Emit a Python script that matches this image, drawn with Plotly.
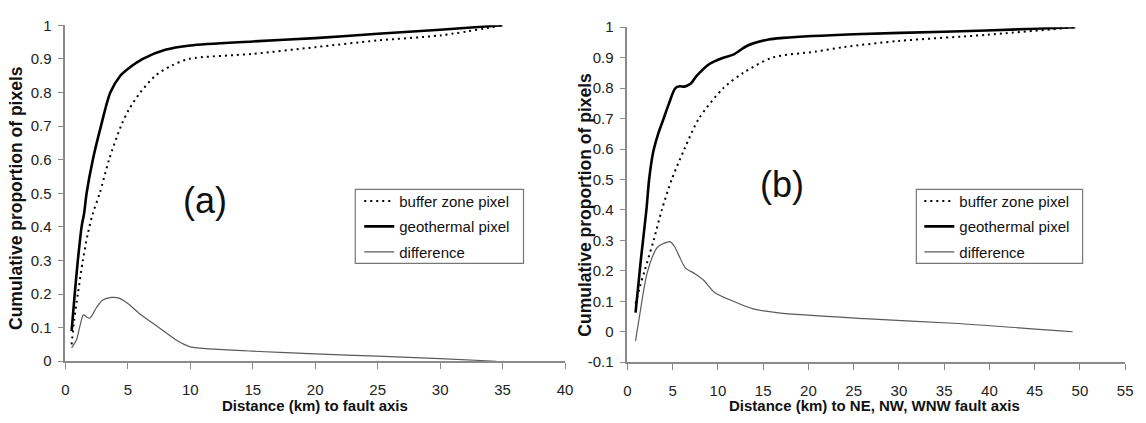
import plotly.graph_objects as go

# ---------------- Panel (a) data ----------------
a_geo_x = [0.5, 0.75, 1.0, 1.3, 1.5, 1.7, 2.2, 2.85, 3.6, 4.4, 5.0, 6.2, 8.0, 10.0, 15.0, 20.0, 25.0, 30.0, 35.0]
a_geo_y = [0.09, 0.2, 0.3, 0.4, 0.44, 0.5, 0.6, 0.7, 0.8, 0.85, 0.87, 0.9, 0.927, 0.94, 0.952, 0.962, 0.975, 0.987, 1.0]

a_buf_x = [0.5, 0.7, 1.0, 1.4, 1.8, 2.2, 2.75, 3.5, 4.45, 5.1, 6.0, 7.2, 8.5, 9.9, 15.0, 20.0, 25.0, 30.0, 35.0]
a_buf_y = [0.05, 0.12, 0.2, 0.3, 0.38, 0.44, 0.5, 0.6, 0.7, 0.75, 0.8, 0.85, 0.88, 0.9, 0.915, 0.935, 0.955, 0.97, 1.0]

a_dif_x = [0.5, 0.9, 1.2, 1.45, 1.7, 1.95, 2.5, 3.0, 3.7, 4.3, 5.0, 6.0, 7.5, 9.0, 10.0, 12.0, 15.0, 20.0, 25.0, 30.0, 34.5]
a_dif_y = [0.04, 0.065, 0.11, 0.138, 0.132, 0.128, 0.16, 0.182, 0.19, 0.188, 0.172, 0.14, 0.1, 0.06, 0.043, 0.036, 0.03, 0.022, 0.015, 0.008, 0.0]

# ---------------- Panel (b) data ----------------
b_geo_x = [0.9, 1.5, 2.1, 2.4, 2.85, 3.4, 4.0, 4.6, 5.3, 5.8, 6.3, 7.0, 7.65, 9.1, 10.6, 11.7, 13.3, 15.6, 17.2, 25.0, 35.0, 45.0, 49.5]
b_geo_y = [0.063, 0.24, 0.4, 0.5, 0.59, 0.65, 0.7, 0.75, 0.8, 0.806, 0.805, 0.815, 0.84, 0.88, 0.9, 0.91, 0.94, 0.96, 0.965, 0.977, 0.985, 0.995, 1.0]

b_buf_x = [0.9, 1.4, 1.9, 2.9, 3.8, 4.9, 6.3, 7.9, 10.6, 12.8, 16.0, 20.8, 24.0, 30.0, 39.7, 49.5]
b_buf_y = [0.093, 0.15, 0.2, 0.3, 0.4, 0.5, 0.6, 0.7, 0.8, 0.85, 0.9, 0.92, 0.935, 0.955, 0.975, 1.0]

b_dif_x = [0.9, 1.3, 2.2, 3.3, 4.0, 4.7, 5.2, 5.7, 6.4, 7.5, 8.4, 9.6, 11.7, 13.9, 16.7, 26.2, 36.0, 49.2]
b_dif_y = [-0.03, 0.044, 0.195, 0.277, 0.29, 0.296, 0.28, 0.25, 0.21, 0.19, 0.17, 0.13, 0.1, 0.075, 0.062, 0.043, 0.028, 0.0]

# ---------------- Labels ----------------
series_names = ["buffer zone pixel", "geothermal pixel", "difference"]
y_title = "Cumulative proportion of pixels"
a_x_title = "Distance (km) to fault axis"
b_x_title = "Distance (km) to NE, NW, WNW fault axis"
a_y_ticks = [0, 0.1, 0.2, 0.3, 0.4, 0.5, 0.6, 0.7, 0.8, 0.9, 1]
b_y_ticks = [-0.1, 0, 0.1, 0.2, 0.3, 0.4, 0.5, 0.6, 0.7, 0.8, 0.9, 1]
b_y_ticktext = ["-0.1", "0", "0.1", "0.2", "0.3", "0.4", "0.5", "0.6", "0.7", "0.8", "0.9", "1"]
a_x_ticks = [0, 5, 10, 15, 20, 25, 30, 35, 40]
b_x_ticks = [0, 5, 10, 15, 20, 25, 30, 35, 40, 45, 50, 55]

W, H = 1146, 423
FONT = "Liberation Sans, Arial, sans-serif"
AX = "#8a8a8a"

fig = go.Figure()

def add_panel(gx, gy, bx, by, dx, dy, xa, ya, leg):
    fig.add_trace(go.Scatter(x=bx, y=by, mode="lines", name=series_names[0], legendgroup=leg + "b",
                             line=dict(color="black", width=2, dash="2px,4px", shape="spline", smoothing=0.8),
                             xaxis=xa, yaxis=ya, legend=leg))
    fig.add_trace(go.Scatter(x=gx, y=gy, mode="lines", name=series_names[1], legendgroup=leg + "g",
                             line=dict(color="black", width=2.6, shape="spline", smoothing=0.8),
                             xaxis=xa, yaxis=ya, legend=leg))
    fig.add_trace(go.Scatter(x=dx, y=dy, mode="lines", name=series_names[2], legendgroup=leg + "d",
                             line=dict(color="#5a5a5a", width=1.2, shape="spline", smoothing=0.8),
                             xaxis=xa, yaxis=ya, legend=leg))

add_panel(a_geo_x, a_geo_y, a_buf_x, a_buf_y, a_dif_x, a_dif_y, "x", "y", "legend")
add_panel(b_geo_x, b_geo_y, b_buf_x, b_buf_y, b_dif_x, b_dif_y, "x2", "y2", "legend2")

def px_x(p):
    return p / W

def px_y(p):
    return 1 - p / H

axis_common = dict(showgrid=False, zeroline=False, showline=True, linecolor=AX, linewidth=1.5,
                   ticks="outside", ticklen=6, tickcolor=AX, tickwidth=1.2,
                   tickfont=dict(family=FONT, size=15, color="#222"))

title_font = dict(family=FONT, size=15, color="#111")

fig.update_layout(
    width=W, height=H, margin=dict(l=0, r=0, t=0, b=0),
    paper_bgcolor="white", plot_bgcolor="white",
    xaxis=dict(domain=[px_x(62), px_x(567)], range=[0, 40], tickvals=a_x_ticks, anchor="y",
               ticklabelstandoff=8, **axis_common),
    yaxis=dict(domain=[px_y(367), px_y(17)], range=[0, 1], tickvals=a_y_ticks, anchor="x",
               ticklabelstandoff=3, **axis_common),
    xaxis2=dict(domain=[px_x(630), px_x(1133)], range=[0, 55], tickvals=b_x_ticks, anchor="y2",
                ticklabelstandoff=8, **axis_common),
    yaxis2=dict(domain=[px_y(368), px_y(19)], range=[-0.1, 1], tickvals=b_y_ticks, ticktext=b_y_ticktext,
                anchor="x2", ticklabelstandoff=3, **axis_common),
    legend=dict(x=px_x(359), y=px_y(183), xanchor="left", yanchor="top",
                bgcolor="rgba(0,0,0,0)", borderwidth=0,
                font=dict(family=FONT, size=15, color="#111"), tracegroupgap=3, itemwidth=30),
    legend2=dict(x=px_x(925), y=px_y(183), xanchor="left", yanchor="top",
                 bgcolor="rgba(0,0,0,0)", borderwidth=0,
                 font=dict(family=FONT, size=15, color="#111"), tracegroupgap=3, itemwidth=30),
    showlegend=True,
)

# legend frames
for x0, x1 in ((355, 525), (922, 1090)):
    fig.add_shape(type="rect", xref="paper", yref="paper", x0=px_x(x0), x1=px_x(x1),
                  y0=px_y(265), y1=px_y(188), line=dict(color="#777", width=1.2),
                  fillcolor="rgba(0,0,0,0)", layer="above")

annots = [
    dict(text="(a)", x=px_x(203), y=px_y(200)),
    dict(text="(b)", x=px_x(786), y=px_y(183)),
]
for a in annots:
    fig.add_annotation(text=a["text"], x=a["x"], y=a["y"], xref="paper", yref="paper",
                       showarrow=False, font=dict(family=FONT, size=36, color="#111"),
                       xanchor="center", yanchor="middle")

for xc, yc in ((12, 197), (587, 204)):
    fig.add_annotation(text="<b>" + y_title + "</b>", x=px_x(xc), y=px_y(yc), xref="paper", yref="paper",
                       showarrow=False, textangle=-90, font=dict(family=FONT, size=17.5, color="#111"),
                       xanchor="center", yanchor="middle")

for xc, txt in ((314, a_x_title), (880, b_x_title)):
    fig.add_annotation(text="<b>" + txt + "</b>", x=px_x(xc), y=px_y(413), xref="paper", yref="paper",
                       showarrow=False, font=title_font, xanchor="center", yanchor="middle")

fig.write_html("out.html")
